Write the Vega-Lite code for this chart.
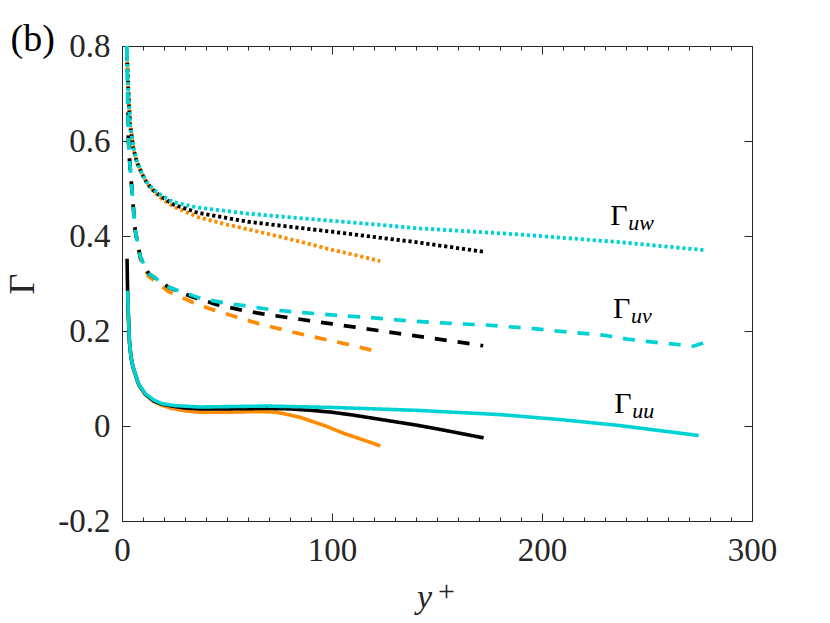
{
  "$schema": "https://vega.github.io/schema/vega-lite/v6.json",
  "width": 630,
  "height": 475,
  "autosize": {"type": "none"},
  "padding": {"left": 122, "top": 46, "right": 78, "bottom": 102},
  "background": "white",
  "config": {
    "view": {"stroke": "#262626", "strokeWidth": 1},
    "axis": {"grid": false, "domain": false, "labelFlush": false, "tickColor": "#262626", "tickWidth": 1, "labelColor": "#262626", "labelFont": "Liberation Serif", "labelFontSize": 33, "titleFont": "Liberation Serif", "titleColor": "#262626", "titleFontWeight": "normal"}
  },
  "datasets": {
    "lines": [
      {"run": "A", "comp": "uu", "yplus": 2.7, "gamma": 0.28},
      {"run": "A", "comp": "uu", "yplus": 3.0, "gamma": 0.235},
      {"run": "A", "comp": "uu", "yplus": 3.5, "gamma": 0.178},
      {"run": "A", "comp": "uu", "yplus": 4.3, "gamma": 0.143},
      {"run": "A", "comp": "uu", "yplus": 5.2, "gamma": 0.123},
      {"run": "A", "comp": "uu", "yplus": 6.3, "gamma": 0.108},
      {"run": "A", "comp": "uu", "yplus": 8, "gamma": 0.086},
      {"run": "A", "comp": "uu", "yplus": 11.1, "gamma": 0.066},
      {"run": "A", "comp": "uu", "yplus": 15, "gamma": 0.052},
      {"run": "A", "comp": "uu", "yplus": 19, "gamma": 0.043},
      {"run": "A", "comp": "uu", "yplus": 25, "gamma": 0.036},
      {"run": "A", "comp": "uu", "yplus": 30, "gamma": 0.032},
      {"run": "A", "comp": "uu", "yplus": 37, "gamma": 0.029},
      {"run": "A", "comp": "uu", "yplus": 50, "gamma": 0.029},
      {"run": "A", "comp": "uu", "yplus": 60, "gamma": 0.030},
      {"run": "A", "comp": "uu", "yplus": 69, "gamma": 0.030},
      {"run": "A", "comp": "uu", "yplus": 73, "gamma": 0.029},
      {"run": "A", "comp": "uu", "yplus": 77, "gamma": 0.026},
      {"run": "A", "comp": "uu", "yplus": 81, "gamma": 0.022},
      {"run": "A", "comp": "uu", "yplus": 85, "gamma": 0.018},
      {"run": "A", "comp": "uu", "yplus": 89, "gamma": 0.012},
      {"run": "A", "comp": "uu", "yplus": 93, "gamma": 0.006},
      {"run": "A", "comp": "uu", "yplus": 97, "gamma": 0.000},
      {"run": "A", "comp": "uu", "yplus": 100.8, "gamma": -0.007},
      {"run": "A", "comp": "uu", "yplus": 106, "gamma": -0.016},
      {"run": "A", "comp": "uu", "yplus": 112, "gamma": -0.025},
      {"run": "A", "comp": "uu", "yplus": 118, "gamma": -0.034},
      {"run": "A", "comp": "uu", "yplus": 123, "gamma": -0.042},
      {"run": "A", "comp": "uv", "yplus": 2.9, "gamma": 0.66},
      {"run": "A", "comp": "uv", "yplus": 3.1, "gamma": 0.60},
      {"run": "A", "comp": "uv", "yplus": 3.6, "gamma": 0.56},
      {"run": "A", "comp": "uv", "yplus": 4.75, "gamma": 0.494},
      {"run": "A", "comp": "uv", "yplus": 6.3, "gamma": 0.410},
      {"run": "A", "comp": "uv", "yplus": 8.7, "gamma": 0.352},
      {"run": "A", "comp": "uv", "yplus": 12.7, "gamma": 0.315},
      {"run": "A", "comp": "uv", "yplus": 22.2, "gamma": 0.283},
      {"run": "A", "comp": "uv", "yplus": 33.3, "gamma": 0.261},
      {"run": "A", "comp": "uv", "yplus": 43.1, "gamma": 0.245},
      {"run": "A", "comp": "uv", "yplus": 65.4, "gamma": 0.215},
      {"run": "A", "comp": "uv", "yplus": 87.6, "gamma": 0.191},
      {"run": "A", "comp": "uv", "yplus": 109.5, "gamma": 0.170},
      {"run": "A", "comp": "uv", "yplus": 123, "gamma": 0.155},
      {"run": "A", "comp": "uw", "yplus": 2.4, "gamma": 0.78},
      {"run": "A", "comp": "uw", "yplus": 3.0, "gamma": 0.707},
      {"run": "A", "comp": "uw", "yplus": 3.8, "gamma": 0.636},
      {"run": "A", "comp": "uw", "yplus": 5.4, "gamma": 0.585},
      {"run": "A", "comp": "uw", "yplus": 7, "gamma": 0.556},
      {"run": "A", "comp": "uw", "yplus": 9.5, "gamma": 0.531},
      {"run": "A", "comp": "uw", "yplus": 12, "gamma": 0.510},
      {"run": "A", "comp": "uw", "yplus": 15, "gamma": 0.494},
      {"run": "A", "comp": "uw", "yplus": 19, "gamma": 0.478},
      {"run": "A", "comp": "uw", "yplus": 24.6, "gamma": 0.462},
      {"run": "A", "comp": "uw", "yplus": 36, "gamma": 0.440},
      {"run": "A", "comp": "uw", "yplus": 50, "gamma": 0.424},
      {"run": "A", "comp": "uw", "yplus": 69, "gamma": 0.405},
      {"run": "A", "comp": "uw", "yplus": 85, "gamma": 0.388},
      {"run": "A", "comp": "uw", "yplus": 100.8, "gamma": 0.370},
      {"run": "A", "comp": "uw", "yplus": 112, "gamma": 0.359},
      {"run": "A", "comp": "uw", "yplus": 123, "gamma": 0.347},
      {"run": "B", "comp": "uu", "yplus": 2.4, "gamma": 0.352},
      {"run": "B", "comp": "uu", "yplus": 2.6, "gamma": 0.30},
      {"run": "B", "comp": "uu", "yplus": 2.9, "gamma": 0.25},
      {"run": "B", "comp": "uu", "yplus": 3.5, "gamma": 0.18},
      {"run": "B", "comp": "uu", "yplus": 4.3, "gamma": 0.145},
      {"run": "B", "comp": "uu", "yplus": 5.2, "gamma": 0.125},
      {"run": "B", "comp": "uu", "yplus": 6.3, "gamma": 0.110},
      {"run": "B", "comp": "uu", "yplus": 8, "gamma": 0.087},
      {"run": "B", "comp": "uu", "yplus": 11.1, "gamma": 0.067},
      {"run": "B", "comp": "uu", "yplus": 15, "gamma": 0.053},
      {"run": "B", "comp": "uu", "yplus": 19, "gamma": 0.046},
      {"run": "B", "comp": "uu", "yplus": 25, "gamma": 0.041},
      {"run": "B", "comp": "uu", "yplus": 30, "gamma": 0.038},
      {"run": "B", "comp": "uu", "yplus": 37, "gamma": 0.036},
      {"run": "B", "comp": "uu", "yplus": 50, "gamma": 0.036},
      {"run": "B", "comp": "uu", "yplus": 69, "gamma": 0.037},
      {"run": "B", "comp": "uu", "yplus": 80, "gamma": 0.036},
      {"run": "B", "comp": "uu", "yplus": 90, "gamma": 0.033},
      {"run": "B", "comp": "uu", "yplus": 100, "gamma": 0.029},
      {"run": "B", "comp": "uu", "yplus": 110, "gamma": 0.023},
      {"run": "B", "comp": "uu", "yplus": 120, "gamma": 0.016},
      {"run": "B", "comp": "uu", "yplus": 130, "gamma": 0.009},
      {"run": "B", "comp": "uu", "yplus": 140, "gamma": 0.002},
      {"run": "B", "comp": "uu", "yplus": 150, "gamma": -0.006},
      {"run": "B", "comp": "uu", "yplus": 160, "gamma": -0.0145},
      {"run": "B", "comp": "uu", "yplus": 172.2, "gamma": -0.025},
      {"run": "B", "comp": "uv", "yplus": 2.9, "gamma": 0.66},
      {"run": "B", "comp": "uv", "yplus": 3.1, "gamma": 0.60},
      {"run": "B", "comp": "uv", "yplus": 3.6, "gamma": 0.56},
      {"run": "B", "comp": "uv", "yplus": 4.75, "gamma": 0.496},
      {"run": "B", "comp": "uv", "yplus": 6.3, "gamma": 0.412},
      {"run": "B", "comp": "uv", "yplus": 8.7, "gamma": 0.356},
      {"run": "B", "comp": "uv", "yplus": 12.7, "gamma": 0.321},
      {"run": "B", "comp": "uv", "yplus": 22.2, "gamma": 0.292},
      {"run": "B", "comp": "uv", "yplus": 33.3, "gamma": 0.272},
      {"run": "B", "comp": "uv", "yplus": 44.8, "gamma": 0.256},
      {"run": "B", "comp": "uv", "yplus": 55.9, "gamma": 0.245},
      {"run": "B", "comp": "uv", "yplus": 67, "gamma": 0.236},
      {"run": "B", "comp": "uv", "yplus": 78, "gamma": 0.229},
      {"run": "B", "comp": "uv", "yplus": 89, "gamma": 0.222},
      {"run": "B", "comp": "uv", "yplus": 100, "gamma": 0.215},
      {"run": "B", "comp": "uv", "yplus": 111, "gamma": 0.208},
      {"run": "B", "comp": "uv", "yplus": 122, "gamma": 0.201},
      {"run": "B", "comp": "uv", "yplus": 133, "gamma": 0.194},
      {"run": "B", "comp": "uv", "yplus": 144, "gamma": 0.187},
      {"run": "B", "comp": "uv", "yplus": 155, "gamma": 0.180},
      {"run": "B", "comp": "uv", "yplus": 166, "gamma": 0.173},
      {"run": "B", "comp": "uv", "yplus": 172, "gamma": 0.169},
      {"run": "B", "comp": "uw", "yplus": 2.3, "gamma": 0.79},
      {"run": "B", "comp": "uw", "yplus": 3.0, "gamma": 0.707},
      {"run": "B", "comp": "uw", "yplus": 3.8, "gamma": 0.636},
      {"run": "B", "comp": "uw", "yplus": 5.4, "gamma": 0.585},
      {"run": "B", "comp": "uw", "yplus": 7, "gamma": 0.557},
      {"run": "B", "comp": "uw", "yplus": 9.5, "gamma": 0.531},
      {"run": "B", "comp": "uw", "yplus": 12, "gamma": 0.511},
      {"run": "B", "comp": "uw", "yplus": 15, "gamma": 0.496},
      {"run": "B", "comp": "uw", "yplus": 19, "gamma": 0.482},
      {"run": "B", "comp": "uw", "yplus": 24.6, "gamma": 0.466},
      {"run": "B", "comp": "uw", "yplus": 36, "gamma": 0.449},
      {"run": "B", "comp": "uw", "yplus": 60, "gamma": 0.430},
      {"run": "B", "comp": "uw", "yplus": 100, "gamma": 0.409},
      {"run": "B", "comp": "uw", "yplus": 140, "gamma": 0.387},
      {"run": "B", "comp": "uw", "yplus": 172, "gamma": 0.367},
      {"run": "C", "comp": "uu", "yplus": 2.7, "gamma": 0.285},
      {"run": "C", "comp": "uu", "yplus": 3.0, "gamma": 0.24},
      {"run": "C", "comp": "uu", "yplus": 3.5, "gamma": 0.18},
      {"run": "C", "comp": "uu", "yplus": 4.3, "gamma": 0.145},
      {"run": "C", "comp": "uu", "yplus": 5.2, "gamma": 0.125},
      {"run": "C", "comp": "uu", "yplus": 6.3, "gamma": 0.110},
      {"run": "C", "comp": "uu", "yplus": 8, "gamma": 0.088},
      {"run": "C", "comp": "uu", "yplus": 11.1, "gamma": 0.068},
      {"run": "C", "comp": "uu", "yplus": 15, "gamma": 0.055},
      {"run": "C", "comp": "uu", "yplus": 19, "gamma": 0.047},
      {"run": "C", "comp": "uu", "yplus": 25, "gamma": 0.043},
      {"run": "C", "comp": "uu", "yplus": 37, "gamma": 0.040},
      {"run": "C", "comp": "uu", "yplus": 69, "gamma": 0.042},
      {"run": "C", "comp": "uu", "yplus": 100.8, "gamma": 0.039},
      {"run": "C", "comp": "uu", "yplus": 140, "gamma": 0.033},
      {"run": "C", "comp": "uu", "yplus": 180, "gamma": 0.024},
      {"run": "C", "comp": "uu", "yplus": 210, "gamma": 0.013},
      {"run": "C", "comp": "uu", "yplus": 237, "gamma": 0.001},
      {"run": "C", "comp": "uu", "yplus": 274.6, "gamma": -0.020},
      {"run": "C", "comp": "uv", "yplus": 2.3, "gamma": 0.80},
      {"run": "C", "comp": "uv", "yplus": 2.7, "gamma": 0.68},
      {"run": "C", "comp": "uv", "yplus": 3.1, "gamma": 0.60},
      {"run": "C", "comp": "uv", "yplus": 3.6, "gamma": 0.56},
      {"run": "C", "comp": "uv", "yplus": 4.75, "gamma": 0.496},
      {"run": "C", "comp": "uv", "yplus": 6.3, "gamma": 0.412},
      {"run": "C", "comp": "uv", "yplus": 8.7, "gamma": 0.356},
      {"run": "C", "comp": "uv", "yplus": 12.7, "gamma": 0.321},
      {"run": "C", "comp": "uv", "yplus": 22.2, "gamma": 0.292},
      {"run": "C", "comp": "uv", "yplus": 33.3, "gamma": 0.275},
      {"run": "C", "comp": "uv", "yplus": 38, "gamma": 0.268},
      {"run": "C", "comp": "uv", "yplus": 49, "gamma": 0.259},
      {"run": "C", "comp": "uv", "yplus": 60, "gamma": 0.252},
      {"run": "C", "comp": "uv", "yplus": 71, "gamma": 0.245},
      {"run": "C", "comp": "uv", "yplus": 82, "gamma": 0.240},
      {"run": "C", "comp": "uv", "yplus": 94, "gamma": 0.236},
      {"run": "C", "comp": "uv", "yplus": 105, "gamma": 0.232},
      {"run": "C", "comp": "uv", "yplus": 116, "gamma": 0.229},
      {"run": "C", "comp": "uv", "yplus": 127, "gamma": 0.225},
      {"run": "C", "comp": "uv", "yplus": 138, "gamma": 0.221},
      {"run": "C", "comp": "uv", "yplus": 149, "gamma": 0.218},
      {"run": "C", "comp": "uv", "yplus": 161, "gamma": 0.215},
      {"run": "C", "comp": "uv", "yplus": 172, "gamma": 0.213},
      {"run": "C", "comp": "uv", "yplus": 196, "gamma": 0.205},
      {"run": "C", "comp": "uv", "yplus": 207, "gamma": 0.200},
      {"run": "C", "comp": "uv", "yplus": 229.7, "gamma": 0.191},
      {"run": "C", "comp": "uv", "yplus": 240.6, "gamma": 0.183},
      {"run": "C", "comp": "uv", "yplus": 252, "gamma": 0.177},
      {"run": "C", "comp": "uv", "yplus": 264, "gamma": 0.172},
      {"run": "C", "comp": "uv", "yplus": 272, "gamma": 0.168},
      {"run": "C", "comp": "uv", "yplus": 277.8, "gamma": 0.176},
      {"run": "C", "comp": "uw", "yplus": 2.2, "gamma": 0.80},
      {"run": "C", "comp": "uw", "yplus": 3.0, "gamma": 0.707},
      {"run": "C", "comp": "uw", "yplus": 3.8, "gamma": 0.636},
      {"run": "C", "comp": "uw", "yplus": 5.4, "gamma": 0.587},
      {"run": "C", "comp": "uw", "yplus": 7, "gamma": 0.558},
      {"run": "C", "comp": "uw", "yplus": 9.5, "gamma": 0.532},
      {"run": "C", "comp": "uw", "yplus": 12, "gamma": 0.512},
      {"run": "C", "comp": "uw", "yplus": 15, "gamma": 0.498},
      {"run": "C", "comp": "uw", "yplus": 19, "gamma": 0.485},
      {"run": "C", "comp": "uw", "yplus": 24.6, "gamma": 0.471},
      {"run": "C", "comp": "uw", "yplus": 36, "gamma": 0.460},
      {"run": "C", "comp": "uw", "yplus": 60, "gamma": 0.447},
      {"run": "C", "comp": "uw", "yplus": 100, "gamma": 0.432},
      {"run": "C", "comp": "uw", "yplus": 142, "gamma": 0.416},
      {"run": "C", "comp": "uw", "yplus": 190, "gamma": 0.403},
      {"run": "C", "comp": "uw", "yplus": 237, "gamma": 0.387},
      {"run": "C", "comp": "uw", "yplus": 278, "gamma": 0.370}
    ],
    "labels": [
      {"sym": "Γ", "sub": "uw", "yplus": 232.5, "gamma": 0.4223},
      {"sym": "Γ", "sub": "uv", "yplus": 233.8, "gamma": 0.2265},
      {"sym": "Γ", "sub": "uu", "yplus": 234.4, "gamma": 0.0265}
    ]
  },
  "resolve": {"scale": {"x": "independent", "y": "independent"}, "axis": {"x": "independent", "y": "independent"}},
  "layer": [
    {
      "data": {"name": "lines"},
      "mark": {"type": "line", "clip": true},
      "encoding": {
        "x": {"field": "yplus", "type": "quantitative", "scale": {"domain": [0, 300], "nice": false, "zero": false},
          "axis": {"orient": "bottom", "values": [0, 100, 200, 300], "tickSize": -8, "labelPadding": 21, "title": "y", "titleFontStyle": "italic", "titleFontSize": 34, "titleX": 302, "titleY": 86.5, "titleBaseline": "alphabetic", "titleAlign": "center"}},
        "y": {"field": "gamma", "type": "quantitative", "scale": {"domain": [-0.2, 0.8], "nice": false, "zero": false},
          "axis": {"orient": "left", "values": [-0.2, 0, 0.2, 0.4, 0.6, 0.8], "tickSize": -8, "labelPadding": 20, "labelExpr": "datum.value === 0 ? '0' : (datum.value < 0 ? '-' + format(-datum.value, '.1f') : format(datum.value, '.1f'))", "title": "Γ", "titleFontSize": 36, "titleX": -89, "titleY": 237.5, "titleAngle": 270, "titleBaseline": "alphabetic", "titleAlign": "center"}},
        "color": {"field": "run", "type": "nominal", "scale": {"domain": ["A", "B", "C"], "range": ["#ff8c00", "#000000", "#00d2d4"]}, "legend": null},
        "strokeDash": {"field": "comp", "type": "nominal", "scale": {"domain": ["uu", "uv", "uw"], "range": [[1, 0], [12, 11], [3.2, 2.8]]}, "legend": null},
        "strokeWidth": {"field": "comp", "type": "nominal", "scale": {"domain": ["uu", "uv", "uw"], "range": [3.6, 3.8, 4.2]}, "legend": null}
      }
    },
    {
      "data": {"name": "labels"},
      "mark": {"type": "point", "opacity": 0},
      "encoding": {
        "x": {"field": "yplus", "type": "quantitative", "scale": {"domain": [0, 300], "nice": false, "zero": false},
          "axis": {"orient": "bottom", "values": [10, 20, 30, 40, 50, 60, 70, 80, 90, 110, 120, 130, 140, 150, 160, 170, 180, 190, 210, 220, 230, 240, 250, 260, 270, 280, 290], "tickSize": -4, "labels": false, "title": "+", "titleFontSize": 30, "titleX": 324, "titleY": 70, "titleBaseline": "middle", "titleAlign": "center"}},
        "y": {"field": "gamma", "type": "quantitative", "scale": {"domain": [-0.2, 0.8], "nice": false, "zero": false},
          "axis": {"orient": "right", "values": [-0.2, 0, 0.2, 0.4, 0.6, 0.8], "tickSize": -8, "labels": false, "title": null}}
      }
    },
    {
      "data": {"name": "labels"},
      "mark": {"type": "point", "opacity": 0},
      "encoding": {
        "x": {"field": "yplus", "type": "quantitative", "scale": {"domain": [0, 300], "nice": false, "zero": false},
          "axis": {"orient": "top", "values": [0, 100, 200, 300], "tickSize": -8, "labels": false, "title": "(b)", "titleFont": "Liberation Serif", "titleFontSize": 38, "titleColor": "#000000", "titleAngle": 0, "titleX": -112, "titleY": 4, "titleAlign": "left", "titleBaseline": "alphabetic"}},
        "y": {"field": "gamma", "type": "quantitative", "scale": {"domain": [-0.2, 0.8], "nice": false, "zero": false}, "axis": null}
      }
    },
    {
      "data": {"name": "labels"},
      "mark": {"type": "point", "opacity": 0},
      "encoding": {
        "x": {"field": "yplus", "type": "quantitative", "scale": {"domain": [0, 300], "nice": false, "zero": false},
          "axis": {"orient": "top", "values": [10, 20, 30, 40, 50, 60, 70, 80, 90, 110, 120, 130, 140, 150, 160, 170, 180, 190, 210, 220, 230, 240, 250, 260, 270, 280, 290], "tickSize": -4, "labels": false, "title": null}},
        "y": {"field": "gamma", "type": "quantitative", "scale": {"domain": [-0.2, 0.8], "nice": false, "zero": false}, "axis": null}
      }
    },
    {
      "data": {"name": "labels"},
      "mark": {"type": "text", "align": "left", "baseline": "alphabetic", "font": "Liberation Serif", "fontSize": 30, "color": "#000000"},
      "encoding": {
        "x": {"field": "yplus", "type": "quantitative", "scale": {"domain": [0, 300], "nice": false, "zero": false}, "axis": null},
        "y": {"field": "gamma", "type": "quantitative", "scale": {"domain": [-0.2, 0.8], "nice": false, "zero": false}, "axis": null},
        "text": {"field": "sym"}
      }
    },
    {
      "data": {"name": "labels"},
      "mark": {"type": "text", "align": "left", "baseline": "alphabetic", "font": "Liberation Serif", "fontStyle": "italic", "fontSize": 22, "dx": 18, "dy": 5, "color": "#000000"},
      "encoding": {
        "x": {"field": "yplus", "type": "quantitative", "scale": {"domain": [0, 300], "nice": false, "zero": false}, "axis": null},
        "y": {"field": "gamma", "type": "quantitative", "scale": {"domain": [-0.2, 0.8], "nice": false, "zero": false}, "axis": null},
        "text": {"field": "sub"}
      }
    }
  ]
}
